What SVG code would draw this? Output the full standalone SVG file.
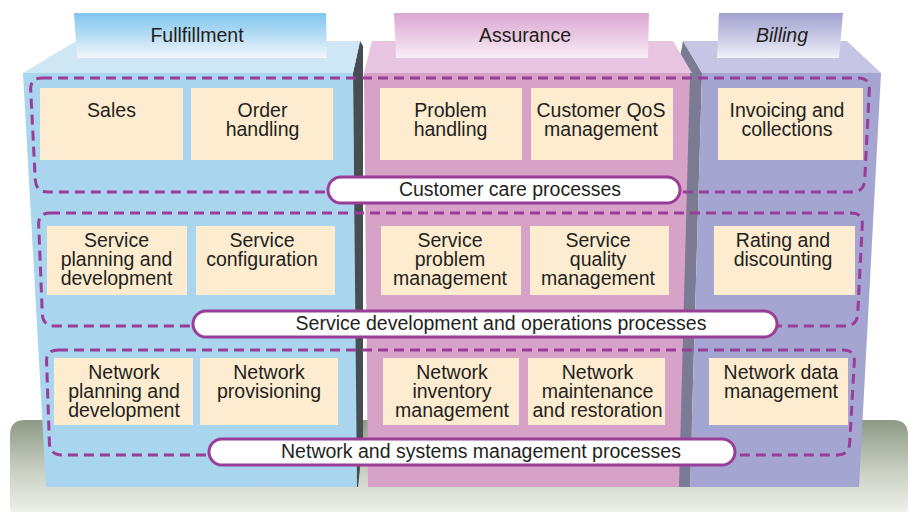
<svg xmlns="http://www.w3.org/2000/svg" width="911" height="513" viewBox="0 0 911 513">
<defs>
<linearGradient id="gGround" x1="0" y1="0" x2="0" y2="1">
<stop offset="0" stop-color="#8d9985"/>
<stop offset="0.55" stop-color="#c9cfc3"/>
<stop offset="1" stop-color="#eef0ea"/>
</linearGradient>
<linearGradient id="gBlue" x1="0" y1="0" x2="0" y2="1">
<stop offset="0" stop-color="#80c6ef"/>
<stop offset="0.5" stop-color="#b6dcf3"/>
<stop offset="1" stop-color="#f3f7fb"/>
</linearGradient>
<linearGradient id="gPink" x1="0" y1="0" x2="0" y2="1">
<stop offset="0" stop-color="#dba8d2"/>
<stop offset="0.5" stop-color="#e9c9e2"/>
<stop offset="1" stop-color="#f8eef6"/>
</linearGradient>
<linearGradient id="gLav" x1="0" y1="0" x2="0" y2="1">
<stop offset="0" stop-color="#a2a2d0"/>
<stop offset="0.5" stop-color="#c6c6e4"/>
<stop offset="1" stop-color="#f2f2f9"/>
</linearGradient>
</defs>
<style>
text{font-family:"Liberation Sans",Arial,Helvetica,sans-serif;font-size:19.5px;fill:#231f20;text-anchor:middle}
.box{fill:#fdecd0}
.dash{fill:none;stroke:#993d97;stroke-width:3;stroke-dasharray:10 6}
.pill{fill:#ffffff;stroke:#993d97;stroke-width:3}
</style>
<rect x="0" y="0" width="911" height="513" fill="#ffffff"/>
<path id="ground" d="M25,420 H893 Q908,420 908,435 V509 Q908,512 905,512 H13 Q10,512 10,509 V435 Q10,420 25,420 Z" fill="url(#gGround)"/>

<g id="col-billing">
<polygon points="683,41 702,73 690,487 672,487 672,100" fill="#7b7b93"/>
<polygon points="702,73 881,73 859,487 690,487" fill="#a5a5d2"/>
<polygon points="683,41 847,41 881,73 702,73" fill="#c6c6e4"/>
<polygon points="719,13 843,13 839,58 717,58" fill="url(#gLav)"/>
<text x="782" y="42" font-style="italic">Billing</text>
</g>

<g id="col-fulfillment">
<polygon points="353,73 360,41 363,46 363,440 358,487 355,487" fill="#474e52"/>
<polygon points="23,73 353,73 357,487 46,487" fill="#a9d5ef"/>
<polygon points="76,41 360,41 353,73 23,73" fill="#cfe6f5"/>
<polygon points="74,13 326,13 327,58 77,58" fill="url(#gBlue)"/>
<text x="197" y="42">Fullfillment</text>
</g>

<g id="col-assurance">
<polygon points="364,73 690,73 679,487 368,487" fill="#d6a2c8"/>
<polygon points="372,41 673,41 692,73 364,73" fill="#e7c4df"/>
<polygon points="394,13 649,13 648,58 396,58" fill="url(#gPink)"/>
<text x="525" y="42">Assurance</text>
</g>

<g id="group-customer-care">
<path class="dash" d="M42,78 H858 Q870,78 869.3,90 L864.7,180 Q864,192 852,192 H48 Q36,192 35.3,180 L30.7,90 Q30,78 42,78 Z"/>
<rect class="pill" x="328" y="177" width="352" height="26" rx="13"/>
<text x="510" y="196">Customer care processes</text>
</g>

<g id="group-service">
<path class="dash" d="M50,213 H851 Q863,213 862.3,225 L857.7,314 Q857,326 845,326 H55 Q43,326 42.3,314 L38.7,225 Q38,213 50,213 Z"/>
<rect class="pill" x="193" y="311" width="584" height="26" rx="13"/>
<text x="501" y="330">Service development and operations processes</text>
</g>

<g id="group-network">
<path class="dash" d="M58,350 H843 Q855,350 854.3,362 L849.7,443 Q849,455 837,455 H62 Q50,455 49.4,443 L46.6,362 Q46,350 58,350 Z"/>
<rect class="pill" x="209" y="439" width="526" height="26" rx="13"/>
<text x="481" y="458">Network and systems management processes</text>
</g>

<g id="sales"><rect class="box" x="40" y="88" width="143" height="72"/><text x="111.5" y="117">Sales</text></g>
<g id="order-handling"><rect class="box" x="191" y="88" width="142" height="72"/><text x="262.5" y="117">Order</text><text x="262.5" y="136">handling</text></g>
<g id="problem-handling"><rect class="box" x="380" y="88" width="142" height="72"/><text x="450.5" y="117">Problem</text><text x="450.5" y="136">handling</text></g>
<g id="customer-qos"><rect class="box" x="531" y="88" width="142" height="72"/><text x="601" y="117">Customer QoS</text><text x="601" y="136">management</text></g>
<g id="invoicing"><rect class="box" x="718" y="88" width="145" height="72"/><text x="787" y="117">Invoicing and</text><text x="787" y="136">collections</text></g>

<g id="service-planning"><rect class="box" x="47" y="226" width="140" height="69"/><text x="116.5" y="247">Service</text><text x="116.5" y="266">planning and</text><text x="116.5" y="285">development</text></g>
<g id="service-configuration"><rect class="box" x="196" y="226" width="139" height="69"/><text x="262" y="247">Service</text><text x="262" y="266">configuration</text></g>
<g id="service-problem"><rect class="box" x="381" y="226" width="140" height="69"/><text x="450" y="247">Service</text><text x="450" y="266">problem</text><text x="450" y="285">management</text></g>
<g id="service-quality"><rect class="box" x="530" y="226" width="139" height="69"/><text x="598" y="247">Service</text><text x="598" y="266">quality</text><text x="598" y="285">management</text></g>
<g id="rating"><rect class="box" x="714" y="226" width="141" height="69"/><text x="783" y="247">Rating and</text><text x="783" y="266">discounting</text></g>

<g id="network-planning"><rect class="box" x="54" y="358" width="139" height="67"/><text x="124" y="379">Network</text><text x="124" y="398">planning and</text><text x="124" y="417">development</text></g>
<g id="network-provisioning"><rect class="box" x="200" y="358" width="138" height="67"/><text x="269" y="379">Network</text><text x="269" y="398">provisioning</text></g>
<g id="network-inventory"><rect class="box" x="383" y="358" width="136" height="67"/><text x="452" y="379">Network</text><text x="452" y="398">inventory</text><text x="452" y="417">management</text></g>
<g id="network-maintenance"><rect class="box" x="528" y="358" width="137" height="67"/><text x="597.5" y="379">Network</text><text x="597.5" y="398">maintenance</text><text x="597.5" y="417">and restoration</text></g>
<g id="network-data"><rect class="box" x="709" y="358" width="139" height="67"/><text x="781" y="379">Network data</text><text x="781" y="398">management</text></g>

<g id="connectors"></g>
</svg>
